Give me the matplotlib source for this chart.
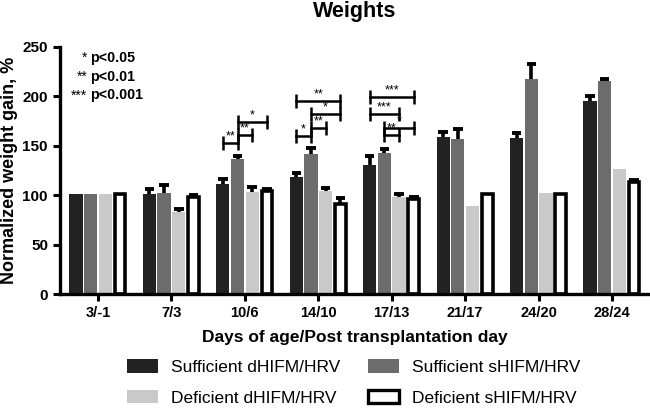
import matplotlib
matplotlib.use("Agg")
import matplotlib.pyplot as plt
import numpy as np
from matplotlib.patches import Patch

plt.rcParams['font.family'] = ['Liberation Sans', 'DejaVu Sans']

categories = ["3/-1", "7/3", "10/6", "14/10", "17/13", "21/17", "24/20", "28/24"]
series_names = ["Sufficient dHIFM/HRV", "Sufficient sHIFM/HRV",
                "Deficient dHIFM/HRV", "Deficient sHIFM/HRV"]

suff_d = [101, 101, 111, 118, 131, 159, 158, 195]
suff_d_err = [0, 5, 5, 5, 9, 5, 5, 5]
suff_s = [101, 102, 137, 142, 143, 157, 218, 216]
suff_s_err = [0, 8, 3, 6, 4, 10, 15, 1.5]
def_d = [101, 83, 103, 104, 98, 89, 102, 127]
def_d_err = [0, 3, 5, 3, 3, 0, 0, 0]
def_s = [101, 98, 104, 91, 96, 101, 101, 113]
def_s_err = [0, 2, 2, 6, 2.5, 0, 0, 2]

values = [suff_d, suff_s, def_d, def_s]
errors = [suff_d_err, suff_s_err, def_d_err, def_s_err]

# significance brackets: (group index, bar a, bar b, height, label)
brackets = [
    (2, 0, 1, 153, "**"), (2, 1, 2, 161, "**"), (2, 1, 3, 174, "*"),
    (3, 0, 3, 195, "**"), (3, 1, 3, 182, "*"), (3, 1, 2, 168, "**"), (3, 0, 1, 160, "*"),
    (4, 0, 3, 199, "***"), (4, 0, 2, 182, "***"), (4, 1, 3, 168, "*"), (4, 1, 2, 161, "**"),
]

sig_stars = ["*", "**", "***"]
sig_text = ["p<0.05", "p<0.01", "p<0.001"]
sig_y = [239, 220, 201]

face = ["#222222", "#6c6c6c", "#c9c9c9", "white"]

fig = plt.figure(figsize=(6.5, 4.08), dpi=100)
ax = fig.add_axes([0.092, 0.279, 0.905, 0.606])

x = np.arange(len(categories))
w = 0.2
for i in range(4):
    pos = x + (i - 1.5) * w
    if i == 3:
        ax.bar(pos, values[i], width=w * 0.72, color=face[i], edgecolor='black',
               linewidth=2.6, zorder=2)
    else:
        ax.bar(pos, values[i], width=w * 0.9, color=face[i], edgecolor='none', zorder=2)
    v = np.array(values[i], float)
    e = np.array(errors[i], float)
    m = e > 0
    ax.vlines(pos[m], v[m], v[m] + e[m], color='black', lw=2.6, zorder=3)
    ax.hlines(v[m] + e[m], pos[m] - 0.065, pos[m] + 0.065, color='black', lw=2.8, zorder=3)

for g, a, b, h, lab in brackets:
    xa = g + (a - 1.5) * w
    xb = g + (b - 1.5) * w
    ax.plot([xa, xb], [h, h], color='black', lw=1.8, zorder=4)
    ax.vlines([xa, xb], h - 7, h + 7, color='black', lw=1.8, zorder=4)
    ax.text((xa + xb) / 2, h + 0.5, lab, ha='center', va='bottom', fontsize=9, zorder=5)

ax.set_xlim(-0.52, 7.49)
ax.set_ylim(0, 250)
ax.set_yticks([0, 50, 100, 150, 200, 250])
ax.set_xticks(x)
ax.set_xticklabels(categories, fontsize=10.5, fontweight='bold')
for t in ax.get_yticklabels():
    t.set_fontsize(11)
    t.set_fontweight('bold')
ax.tick_params(axis='both', width=2.2, length=5, direction='out')
for s in ['top', 'right']:
    ax.spines[s].set_visible(False)
for s in ['left', 'bottom']:
    ax.spines[s].set_linewidth(2.4)

ax.set_ylabel("Normalized weight gain, %", fontsize=13, fontweight='bold', va='center')
ax.yaxis.set_label_coords(-0.085, 0.5)
ax.set_xlabel("Days of age/Post transplantation day", fontsize=12.5, fontweight='bold', va='center')
ax.xaxis.set_label_coords(0.502, -0.174)
fig.text(0.545, 0.973, "Weights", ha='center', va='center', fontsize=15.5, fontweight='bold')

for st, tx, yy in zip(sig_stars, sig_text, sig_y):
    ax.text(-0.145, yy, st, ha='right', va='center', fontsize=10)
    ax.text(-0.11, yy, tx, ha='left', va='center', fontsize=10.3, fontweight='bold')

handles = [Patch(facecolor=face[i], edgecolor=('black' if i == 3 else face[i]),
                 linewidth=(2.4 if i == 3 else 0)) for i in range(4)]
order = [0, 2, 1, 3]
fig.legend([handles[k] for k in order], [series_names[k] for k in order],
           loc='center', bbox_to_anchor=(0.544, 0.0625), borderpad=0,
           ncol=2, frameon=False, fontsize=12.5, handlelength=1.78, handleheight=0.8,
           columnspacing=1.6, labelspacing=0.85, handletextpad=0.75)

fig.savefig("out.png", dpi=100)
